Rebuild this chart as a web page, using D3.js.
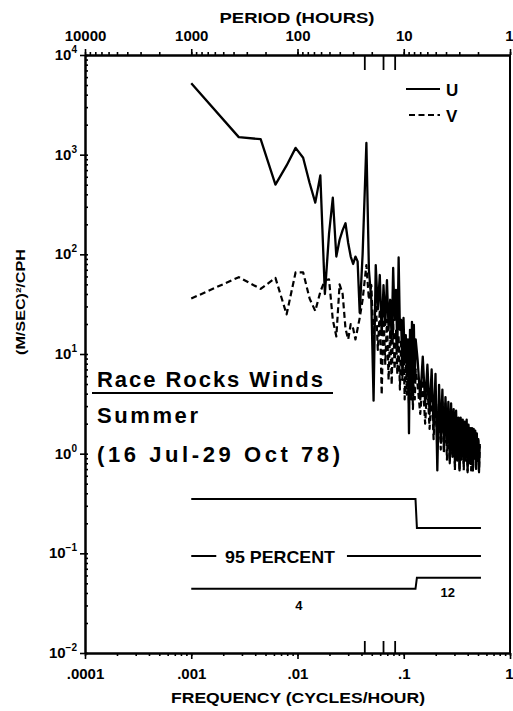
<!DOCTYPE html>
<html>
<head>
<meta charset="utf-8">
<script src="https://cdn.jsdelivr.net/npm/d3@7"></script>
<style>
    body { margin: 0; background: #fff; }
    svg { display: block; }
</style>
</head>
<body>
<div id="graph"></div>
<script>
// spectral estimates, frequency in cycles/hour
const freq = [
    0.001, 0.0028, 0.0045, 0.0062, 0.0079, 0.0096, 0.0113, 0.013, 0.0147, 0.0164, 0.0181, 0.0198,
    0.0215, 0.0232, 0.0249, 0.0266, 0.0283, 0.03, 0.0317, 0.0334, 0.0351, 0.0368, 0.0385,
    0.041, 0.0445, 0.047, 0.0495, 0.052, 0.0545, 0.057, 0.0595, 0.062, 0.0645, 0.067, 0.0695,
    0.072, 0.0745, 0.077, 0.0795, 0.082, 0.0845, 0.087, 0.0895, 0.092, 0.0945, 0.097, 0.0995,
    0.102, 0.1045, 0.107, 0.1095, 0.112, 0.1145, 0.117, 0.1195, 0.122, 0.1245, 0.127, 0.1295,
    0.135, 0.143, 0.151, 0.159, 0.167, 0.175, 0.183, 0.191, 0.199, 0.207, 0.215, 0.223, 0.231,
    0.239, 0.247, 0.255, 0.263, 0.271, 0.279, 0.287, 0.295, 0.303, 0.311, 0.319, 0.327, 0.335,
    0.343, 0.351, 0.359, 0.367, 0.375, 0.383, 0.391, 0.399, 0.407, 0.415, 0.423, 0.431, 0.439,
    0.447, 0.455, 0.463, 0.471, 0.479, 0.487, 0.495, 0.503, 0.511, 0.519
];

const uSpec = [
    5200, 1500, 1430, 500, 780, 1170, 930, 520, 330, 620, 40, 160,
    370, 95, 140, 175, 205, 130, 95, 80, 95, 85, 26,
    100, 1310, 70, 35, 3.4, 78, 28, 62, 15.5, 49, 19.6, 55,
    17.5, 35, 14, 73, 22, 44, 11, 93, 17.5, 22, 7, 23,
    8.8, 15.5, 6.3, 14, 1.6, 17.5, 4.4, 21, 3.9, 19.6, 5.5, 14,
    8.8, 3.5, 9.4, 3.2, 7.8, 2.5, 7, 1.77, 6.3, 0.68, 4.9, 1.4, 4.4,
    1.1, 3.7, 1.25, 3.3, 0.85, 3.2, 1.0, 2.8, 0.8, 2.7, 0.87, 2.3, 0.68,
    2.3, 1.0, 2.2, 0.8, 2.1, 0.93, 2.2, 0.68, 1.95, 0.87, 1.8, 0.8, 1.8,
    0.68, 1.77, 0.93, 1.7, 0.71, 1.6, 0.87, 1.4, 0.68, 1.25
];

const vSpec = [
    36, 59, 45, 58, 25, 66, 66, 36, 27, 42, 55, 56,
    22, 15, 50, 40, 18, 14, 20, 18, 14, 18, 23,
    35, 78, 35, 49, 14, 35, 11, 28, 3.9, 25, 7.8, 22,
    5.5, 17.5, 4.9, 22, 7, 17.5, 6.3, 15.5, 4.4, 14, 5.5, 12,
    3.5, 11, 3.9, 10, 3.2, 10, 3.5, 8.8, 2.8, 7.8, 3.5, 7,
    4.9, 2.5, 5.5, 2.0, 4.9, 1.77, 4.4, 1.4, 3.9, 1.25, 3.5, 1.1, 3.3,
    1.0, 3.2, 0.87, 2.8, 0.8, 2.7, 0.93, 2.5, 0.68, 2.3, 0.85, 2.2, 0.71,
    2.1, 0.87, 1.95, 0.68, 1.9, 0.85, 1.8, 0.65, 1.77, 0.8, 1.7, 0.68, 1.7,
    0.65, 1.6, 0.85, 1.5, 0.68, 1.4, 0.8, 1.35, 0.65, 1.2
];

const freqTicks = [0.0001, 0.001, 0.01, 0.1, 1];
const freqLabels = [".0001", ".001", ".01", ".1", "1"];
const periodTicks = [10000, 1000, 100, 10, 1];
const periodLabels = ["10000", "1000", "100", "10", "1"];
const yExponents = [-2, -1, 0, 1, 2, 3, 4];

// diurnal, inertial and semidiurnal marks
const tideFreq = [0.043, 0.0645, 0.083];

// 95 percent confidence bars
const ciFreq = [0.001, 0.129, 0.133, 0.533];
const ciUpper = [0.35, 0.35, 0.18, 0.18];
const ciLower = [0.044, 0.044, 0.057, 0.057];
const ciMid = 0.094;
const ciMidBreak = [0.00172, 0.0292];
const dofFreq = [0.0103, 0.26];
const dofLabels = ["4", "12"];

const titleLines = ["Race Rocks Winds", "Summer", "(16 Jul-29 Oct 78)"];

const FONT = "'Liberation Sans', Arial, sans-serif";

window.addEventListener("load", drawChart);

function drawChart() {
    let width = 513, height = 711;
    let left = 85, right = 510, top = 55, bottom = 653;

    let svg = d3.select("#graph").append("svg")
        .attr("width", width)
        .attr("height", height)
        .style("font-family", FONT);

    let x = d3.scaleLog().domain([0.0001, 1]).range([left, right]);
    let xTop = d3.scaleLog().domain([10000, 1]).range([left, right]);
    let y = d3.scaleLog().domain([0.01, 10000]).range([bottom, top]);

    // bottom axis
    svg.append("g").attr("class", "axis")
        .attr("transform", `translate(0,${bottom})`)
        .call(d3.axisBottom(x).tickValues(x.ticks()).tickSize(3).tickSizeOuter(0).tickFormat(""));
    svg.append("g").attr("class", "axis labels")
        .attr("transform", `translate(0,${bottom})`)
        .call(d3.axisBottom(x).tickValues(freqTicks).tickSize(6).tickSizeOuter(0).tickPadding(9)
            .tickFormat((d, i) => freqLabels[i]));

    // top axis, period in hours
    svg.append("g").attr("class", "axis")
        .attr("transform", `translate(0,${top})`)
        .call(d3.axisTop(xTop).tickValues(xTop.ticks()).tickSize(3).tickSizeOuter(0).tickFormat(""));
    svg.append("g").attr("class", "axis labels")
        .attr("transform", `translate(0,${top})`)
        .call(d3.axisTop(xTop).tickValues(periodTicks).tickSize(6).tickSizeOuter(0).tickPadding(8)
            .tickFormat((d, i) => periodLabels[i]));

    // left axis: minor ticks inside, decades outside
    svg.append("g").attr("class", "axis")
        .attr("transform", `translate(${left},0)`)
        .call(d3.axisLeft(y).tickValues(y.ticks()).tickSize(-3).tickSizeOuter(0).tickFormat(""));
    svg.append("g").attr("class", "axis")
        .attr("transform", `translate(${left},0)`)
        .call(d3.axisLeft(y).tickValues(yExponents.map(e => Math.pow(10, e))).tickSize(5)
            .tickSizeOuter(0).tickFormat(""));

    svg.selectAll(".axis path.domain").attr("stroke", "#000").attr("stroke-width", 2);
    svg.selectAll(".axis .tick line").attr("stroke", "#000").attr("stroke-width", 1.6);
    svg.selectAll(".axis.labels text")
        .attr("font-family", FONT)
        .attr("font-size", 15)
        .attr("font-weight", "bold")
        .attr("fill", "#000");
    // the "1" at the right edge sits against the border
    svg.selectAll(".axis.labels .tick:last-of-type text")
        .attr("text-anchor", "end")
        .attr("dx", 3);

    let ylabels = svg.selectAll(".ylabel")
        .data(yExponents)
        .enter().append("text")
        .attr("class", "ylabel")
        .attr("x", left - 8)
        .attr("y", d => y(Math.pow(10, d)) + 5)
        .attr("text-anchor", "end")
        .attr("font-size", 15)
        .attr("font-weight", "bold");
    ylabels.append("tspan").text("10");
    ylabels.append("tspan")
        .attr("dy", -7)
        .attr("font-size", 10)
        .text(d => d < 0 ? "\u2212" + Math.abs(d) : String(d));

    // right border
    svg.append("line")
        .attr("x1", right).attr("x2", right)
        .attr("y1", top).attr("y2", bottom)
        .attr("stroke", "#000").attr("stroke-width", 2);

    // tidal marks
    svg.selectAll(".tide-top")
        .data(tideFreq)
        .enter().append("line")
        .attr("x1", d => x(d)).attr("x2", d => x(d))
        .attr("y1", top).attr("y2", top + 15)
        .attr("stroke", "#000").attr("stroke-width", 1.8);
    svg.selectAll(".tide-bottom")
        .data(tideFreq)
        .enter().append("line")
        .attr("x1", d => x(d)).attr("x2", d => x(d))
        .attr("y1", bottom).attr("y2", bottom - 12)
        .attr("stroke", "#000").attr("stroke-width", 1.8);

    // axis titles
    svg.append("text")
        .attr("x", 297).attr("y", 23)
        .attr("text-anchor", "middle")
        .attr("font-size", 14).attr("font-weight", "bold")
        .attr("textLength", 155).attr("lengthAdjust", "spacingAndGlyphs")
        .text("PERIOD (HOURS)");
    svg.append("text")
        .attr("x", 298).attr("y", 703)
        .attr("text-anchor", "middle")
        .attr("font-size", 14).attr("font-weight", "bold")
        .attr("textLength", 254).attr("lengthAdjust", "spacingAndGlyphs")
        .text("FREQUENCY (CYCLES/HOUR)");
    svg.append("text")
        .attr("transform", "translate(25,302) rotate(-90)")
        .attr("text-anchor", "middle")
        .attr("font-size", 12).attr("font-weight", "bold")
        .attr("textLength", 106).attr("lengthAdjust", "spacingAndGlyphs")
        .text("(M/SEC)\u00B2/CPH");

    // spectra
    let points = freq.map((f, i) => ({f: f, u: uSpec[i], v: vSpec[i]}));

    let uLine = d3.line().x(d => x(d.f)).y(d => y(d.u));
    let vLine = d3.line().x(d => x(d.f)).y(d => y(d.v));

    svg.append("path")
        .datum(points)
        .attr("d", vLine)
        .attr("fill", "none")
        .attr("stroke", "#000")
        .attr("stroke-width", 2.2)
        .attr("stroke-dasharray", "6,3.5")
        .attr("stroke-linejoin", "round");

    svg.append("path")
        .datum(points)
        .attr("d", uLine)
        .attr("fill", "none")
        .attr("stroke", "#000")
        .attr("stroke-width", 2.3)
        .attr("stroke-linejoin", "round");

    // legend
    svg.append("line")
        .attr("x1", 406).attr("x2", 440).attr("y1", 89).attr("y2", 89)
        .attr("stroke", "#000").attr("stroke-width", 2);
    svg.append("line")
        .attr("x1", 409).attr("x2", 440).attr("y1", 115).attr("y2", 115)
        .attr("stroke", "#000").attr("stroke-width", 2).attr("stroke-dasharray", "6,3.5");
    svg.append("text")
        .attr("x", 446).attr("y", 96)
        .attr("font-size", 17).attr("font-weight", "bold")
        .text("U");
    svg.append("text")
        .attr("x", 446).attr("y", 122)
        .attr("font-size", 17).attr("font-weight", "bold")
        .text("V");

    // title block
    let titleY = [387, 423, 462];
    let titleW = [226, 101, 243];
    svg.selectAll(".title")
        .data(titleLines)
        .enter().append("text")
        .attr("class", "title")
        .attr("x", 97)
        .attr("y", (d, i) => titleY[i])
        .attr("font-size", 22)
        .attr("font-weight", "bold")
        .attr("textLength", (d, i) => titleW[i])
        .attr("lengthAdjust", "spacing")
        .text(d => d);
    svg.append("line")
        .attr("x1", 92).attr("x2", 333).attr("y1", 393).attr("y2", 393)
        .attr("stroke", "#000").attr("stroke-width", 2);

    // confidence bars
    let ciUp = ciFreq.map((f, i) => ({f: f, c: ciUpper[i]}));
    let ciLow = ciFreq.map((f, i) => ({f: f, c: ciLower[i]}));
    let ciLine = d3.line().x(d => x(d.f)).y(d => y(d.c));

    svg.append("path").datum(ciUp).attr("d", ciLine)
        .attr("fill", "none").attr("stroke", "#000").attr("stroke-width", 2);
    svg.append("path").datum(ciLow).attr("d", ciLine)
        .attr("fill", "none").attr("stroke", "#000").attr("stroke-width", 2);

    let midSegments = [[ciFreq[0], ciMidBreak[0]], [ciMidBreak[1], ciFreq[3]]];
    svg.selectAll(".ci-mid")
        .data(midSegments)
        .enter().append("line")
        .attr("x1", d => x(d[0])).attr("x2", d => x(d[1]))
        .attr("y1", y(ciMid)).attr("y2", y(ciMid))
        .attr("stroke", "#000").attr("stroke-width", 2);
    svg.append("text")
        .attr("x", 225).attr("y", y(ciMid) + 7)
        .attr("font-size", 17).attr("font-weight", "bold")
        .attr("textLength", 110).attr("lengthAdjust", "spacingAndGlyphs")
        .text("95 PERCENT");

    svg.selectAll(".dof")
        .data(dofLabels)
        .enter().append("text")
        .attr("class", "dof")
        .attr("x", (d, i) => x(dofFreq[i]))
        .attr("y", (d, i) => y(ciLower[i * 2]) + (i === 0 ? 21 : 19))
        .attr("text-anchor", "middle")
        .attr("font-size", 13).attr("font-weight", "bold")
        .text(d => d);
}
</script>
</body>
</html>
